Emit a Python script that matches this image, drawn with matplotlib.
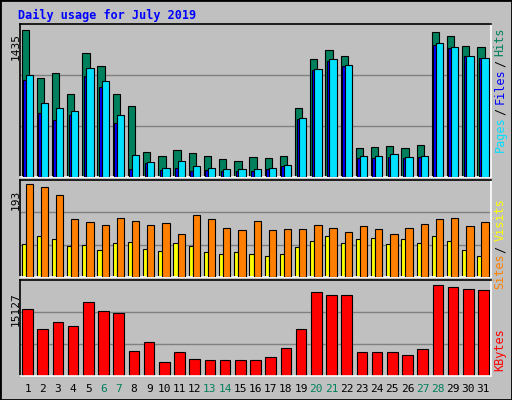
import matplotlib
matplotlib.use("Agg")
import matplotlib.pyplot as plt
import numpy as np

days = list(range(1, 32))
hits = [1435, 968, 1016, 812, 1211, 1084, 812, 695, 247, 208, 266, 237, 208, 179, 159, 198,
        188, 208, 675, 1153, 1240, 1182, 286, 295, 305, 286, 315, 1416, 1377, 1279, 1270]
files = [997, 724, 675, 646, 1065, 938, 607, 218, 149, 91, 159, 110, 91, 81, 81, 81,
         91, 120, 578, 1055, 1153, 1094, 208, 208, 227, 198, 208, 1309, 1270, 1182, 1162]
pages = [948, 627, 558, 607, 987, 880, 529, 81, 140, 71, 91, 62, 71, 62, 62, 62,
         81, 110, 568, 1046, 1133, 1084, 188, 188, 198, 188, 198, 1289, 1260, 1182, 1162]
visits = [193, 187, 172, 122, 115, 109, 124, 117, 109, 113, 90, 130, 120, 103, 99, 117,
          99, 101, 101, 109, 103, 94, 107, 101, 90, 103, 111, 120, 124, 107, 115]
sites = [69, 86, 80, 65, 67, 57, 71, 73, 59, 55, 71, 65, 52, 48, 52, 48,
         44, 48, 63, 75, 86, 71, 80, 82, 69, 80, 71, 86, 75, 57, 44]
kbytes = [11137, 7812, 8976, 8311, 12300, 10805, 10472, 4156, 5651, 2327, 3989, 2826, 2659, 2659,
          2659, 2659, 3158, 4654, 7812, 13962, 13464, 13464, 3989, 3989, 3989, 3491, 4488,
          15127, 14793, 14461, 14294]
weekends = [6, 7, 13, 14, 20, 21, 27, 28]
title = "Daily usage for July 2019"

W, H = 512, 400
fig = plt.figure(figsize=(W/100, H/100), dpi=100, facecolor="#C0C0C0")
mono = "DejaVu Sans Mono"
x = np.array(days)

def ax_at(l, t, r, b):
    a = fig.add_axes([l/W, 1-b/H, (r-l)/W, (b-t)/H])
    a.set_facecolor("#C0C0C0")
    a.set_xlim(0.5, 31.5)
    a.set_xticks([]); a.set_yticks([])
    for s in a.spines.values():
        s.set_color("white"); s.set_linewidth(1.2)
    a.spines["top"].set_color("black"); a.spines["left"].set_color("black")
    return a

def grid(a, top):
    for f in (1/3, 2/3):
        a.axhline(top*f, color="#808080", lw=1, zorder=0)

fig.patches.append(plt.Rectangle((0, 0), 1, 1, transform=fig.transFigure, fill=False,
                                 edgecolor="black", lw=2))
fig.text(18/W, 1-15/H, title, color="#0000FF", fontsize=8.5, fontweight="bold",
         family=mono, va="center")

ek = dict(edgecolor="black", linewidth=0.8)
a1 = ax_at(20, 24, 491, 177)
top1 = 1435*153/147.4
a1.set_ylim(0, top1); grid(a1, top1)
a1.bar(x-0.16, hits, width=0.48, color="#00805C", **ek, zorder=2)
a1.bar(x-0.2, pages, width=0.2, color="#0000FF", **ek, zorder=3)
a1.bar(x+0.11, files, width=0.48, color="#00E0FF", **ek, zorder=4)
fig.text(16/W, 1-46/H, "1435", rotation=90, fontsize=8, family=mono, ha="center", va="center")
fs = 8.5
fig.text(500/W, 1-28/H, "Hits", rotation=90, color="#00805C", fontsize=fs, family=mono, ha="center", va="top")
fig.text(500/W, 1-60/H, "/", rotation=90, color="#000000", fontsize=fs, family=mono, ha="center", va="top")
fig.text(500/W, 1-68/H, "Files", rotation=90, color="#0000FF", fontsize=fs, family=mono, ha="center", va="top")
fig.text(500/W, 1-108/H, "/", rotation=90, color="#000000", fontsize=fs, family=mono, ha="center", va="top")
fig.text(500/W, 1-116/H, "Pages", rotation=90, color="#00E0FF", fontsize=fs, family=mono, ha="center", va="top")

a2 = ax_at(20, 180, 491, 277)
top2 = 193*97/92.5
a2.set_ylim(0, top2); grid(a2, top2)
a2.bar(x-0.26, sites, width=0.28, color="#FFFF00", **ek, zorder=2)
a2.bar(x+0.11, visits, width=0.48, color="#FF8000", **ek, zorder=3)
fig.text(16/W, 1-200/H, "193", rotation=90, fontsize=8, family=mono, ha="center", va="center")
fig.text(500/W, 1-198/H, "Visits", rotation=90, color="#FFFF00", fontsize=fs, family=mono, ha="center", va="top")
fig.text(500/W, 1-246/H, "/", rotation=90, color="#000000", fontsize=fs, family=mono, ha="center", va="top")
fig.text(500/W, 1-253/H, "Sites", rotation=90, color="#FF8000", fontsize=fs, family=mono, ha="center", va="top")

a3 = ax_at(20, 280, 491, 376)
top3 = 15127*96/91
a3.set_ylim(0, top3); grid(a3, top3)
a3.bar(x, kbytes, width=0.7, color="#FF0000", **ek, zorder=2)
fig.text(16/W, 1-309/H, "15127", rotation=90, fontsize=8, family=mono, ha="center", va="center")
fig.text(500/W, 1-328/H, "KBytes", rotation=90, color="#FF0000", fontsize=fs, family=mono, ha="center", va="top")

for d in days:
    fx = (20 + (d-0.5)/31*471)/W
    fig.text(fx, 1-389/H, str(d), fontsize=8, family=mono, ha="center", va="center",
             color="#00805C" if d in weekends else "black")

fig.savefig("out.png", dpi=100, facecolor=fig.get_facecolor())
